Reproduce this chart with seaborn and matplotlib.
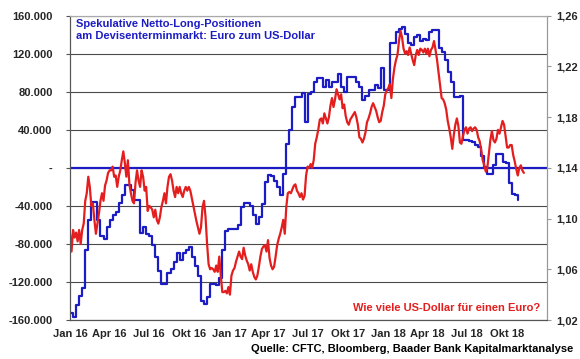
import numpy as np
import pandas as pd
import seaborn as sns
import matplotlib.pyplot as plt
from matplotlib.ticker import FuncFormatter


# --- Data ---
# Speculative net long positions EUR (CFTC), weekly, in thousand contracts
positions_start = '2016-01-01'
net_long = [
    -153, -157, -144, -135, -126, -86, -55, -36, -36, -55,
    -72, -75, -62, -55, -50, -46, -37, -29, -18, -18,
    -23, -34, -34, -69, -62, -70, -72, -81, -94, -108,
    -122, -122, -111, -106, -99, -90, -97, -90, -86, -83,
    -94, -103, -114, -140, -143, -136, -122, -122, -123, -116,
    -86, -66, -64, -64, -64, -60, -41, -37, -37, -40,
    -50, -59, -52, -38, -15, -8, -9, -14, -20, -29,
    -6, 25, 40, 64, 75, 75, 79, 48, 78, 80,
    90, 94, 94, 85, 92, 85, 90, 90, 99, 85,
    80, 96, 96, 96, 90, 85, 71, 76, 82, 82,
    87, 84, 105, 82, 82, 131, 131, 143, 146, 148,
    141, 131, 129, 138, 140, 133, 136, 134, 143, 145,
    145, 126, 122, 113, 101, 90, 75, 75, 76, 29,
    29, 28, 27, 24, 22, 12, 1, -6, -6, 3,
    15, 15, 6, 5, -16, -27, -29, -34,
]

# EUR/USD, sampled twice a week
eurusd_start = '2016-01-01'
eurusd = [
    1.088, 1.074, 1.091, 1.085, 1.089, 1.082, 1.091, 1.080, 1.091, 1.096,
    1.114, 1.120, 1.133, 1.125, 1.110, 1.112, 1.099, 1.088, 1.096, 1.104,
    1.114, 1.120, 1.114, 1.126, 1.130, 1.136, 1.138, 1.138, 1.141, 1.133,
    1.134, 1.125, 1.133, 1.138, 1.146, 1.153, 1.144, 1.133, 1.146, 1.127,
    1.120, 1.114, 1.112, 1.128, 1.138, 1.130, 1.125, 1.138, 1.133, 1.122,
    1.125, 1.106, 1.110, 1.109, 1.107, 1.101, 1.107, 1.099, 1.096, 1.101,
    1.109, 1.114, 1.120, 1.112, 1.125, 1.133, 1.135, 1.130, 1.122, 1.117,
    1.125, 1.120, 1.125, 1.120, 1.117, 1.122, 1.125, 1.122, 1.125, 1.122,
    1.116, 1.110, 1.104, 1.098, 1.093, 1.088, 1.093, 1.109, 1.114, 1.101,
    1.080, 1.064, 1.060, 1.061, 1.060, 1.058, 1.063, 1.058, 1.070, 1.055,
    1.042, 1.042, 1.043, 1.041, 1.046, 1.040, 1.055, 1.059, 1.061, 1.066,
    1.070, 1.074, 1.070, 1.068, 1.077, 1.071, 1.067, 1.064, 1.059, 1.064,
    1.058, 1.054, 1.052, 1.055, 1.062, 1.070, 1.076, 1.078, 1.079, 1.074,
    1.083, 1.069, 1.063, 1.060, 1.062, 1.070, 1.079, 1.084, 1.088, 1.093,
    1.099, 1.088, 1.109, 1.120, 1.121, 1.120, 1.123, 1.126, 1.127, 1.122,
    1.120, 1.117, 1.120, 1.115, 1.118, 1.134, 1.141, 1.140, 1.143, 1.140,
    1.146, 1.159, 1.164, 1.170, 1.178, 1.179, 1.175, 1.183, 1.179, 1.175,
    1.180, 1.189, 1.195, 1.188, 1.194, 1.202, 1.198, 1.194, 1.198, 1.187,
    1.190, 1.181, 1.176, 1.174, 1.178, 1.180, 1.182, 1.184, 1.180, 1.174,
    1.164, 1.163, 1.160, 1.163, 1.168, 1.176, 1.179, 1.183, 1.188, 1.191,
    1.188, 1.185, 1.180, 1.176, 1.177, 1.184, 1.189, 1.198, 1.201, 1.203,
    1.206, 1.195, 1.210, 1.219, 1.225, 1.229, 1.240, 1.248, 1.243, 1.234,
    1.230, 1.232, 1.229, 1.235, 1.230, 1.225, 1.221, 1.229, 1.233, 1.229,
    1.234, 1.233, 1.231, 1.234, 1.230, 1.234, 1.228, 1.233, 1.235, 1.240,
    1.233, 1.225, 1.215, 1.205, 1.195, 1.194, 1.191, 1.186, 1.177, 1.171,
    1.164, 1.155, 1.166, 1.174, 1.179, 1.173, 1.160, 1.159, 1.165, 1.170,
    1.172, 1.167, 1.171, 1.172, 1.169, 1.171, 1.172, 1.170, 1.164, 1.161,
    1.154, 1.146, 1.142, 1.137, 1.140, 1.151, 1.162, 1.169, 1.162, 1.160,
    1.163, 1.170, 1.167, 1.172, 1.177, 1.174, 1.165, 1.156, 1.156, 1.158,
    1.158, 1.150, 1.145, 1.139, 1.134, 1.140, 1.142, 1.138, 1.136,
]

tick_dates = ['2016-01-01', '2016-04-01', '2016-07-01', '2016-10-01',
              '2017-01-01', '2017-04-01', '2017-07-01', '2017-10-01',
              '2018-01-01', '2018-04-01', '2018-07-01', '2018-10-01']
tick_labels = ['Jan 16', 'Apr 16', 'Jul 16', 'Okt 16', 'Jan 17', 'Apr 17',
               'Jul 17', 'Okt 17', 'Jan 18', 'Apr 18', 'Jul 18', 'Okt 18']
left_ticks = [-160000, -120000, -80000, -40000, 0, 40000, 80000, 120000, 160000]
right_ticks = [1.02, 1.06, 1.10, 1.14, 1.18, 1.22, 1.26]

title_text = 'Spekulative Netto-Long-Positionen\nam Devisenterminmarkt: Euro zum US-Dollar'
fx_note = 'Wie viele US-Dollar für einen Euro?'
source_text = 'Quelle: CFTC, Bloomberg, Baader Bank Kapitalmarktanalyse'

BLUE = '#1c1cc4'
RED = '#e41e1e'

df_pos = pd.DataFrame({
    'Datum': pd.date_range(positions_start, periods=len(net_long), freq='7D'),
    'Positionen': np.array(net_long) * 1000,
})
df_fx = pd.DataFrame({
    'Datum': pd.date_range(eurusd_start, periods=len(eurusd), freq='84h'),
    'EURUSD': eurusd,
})

sns.set_style('white')
plt.rcParams['font.family'] = ['Liberation Sans', 'DejaVu Sans']
plt.rcParams['font.weight'] = 'bold'
plt.rcParams['font.size'] = 8

fig = plt.figure(figsize=(5.8, 3.59), dpi=100)
ax = fig.add_axes([0.1207, 0.1086, 0.8223, 0.8477])

# Net long positions (left axis)
ax.axhline(0, color=BLUE, lw=1.6, zorder=2)
sns.lineplot(data=df_pos, x='Datum', y='Positionen', ax=ax, color=BLUE,
             lw=1.6, drawstyle='steps-post', zorder=3)
ax.set_ylim(-160000, 160000)
ax.set_yticks(left_ticks)
ax.yaxis.set_major_formatter(FuncFormatter(
    lambda v, p: '-' if v == 0 else f'{int(v):,}'.replace(',', '.')))
ax.grid(axis='y', color='#4a4a4a', lw=0.8)
ax.set_xlim(pd.Timestamp('2016-01-01'), pd.Timestamp('2019-01-01'))
ax.set_xticks(pd.to_datetime(tick_dates))
ax.set_xticklabels(tick_labels)
ax.set_xlabel('')
ax.set_ylabel('')

# EUR/USD (right axis)
ax2 = ax.twinx()
sns.lineplot(data=df_fx, x='Datum', y='EURUSD', ax=ax2, color=RED, lw=1.6)
ax2.set_ylim(1.02, 1.26)
ax2.set_yticks(right_ticks)
ax2.yaxis.set_major_formatter(FuncFormatter(lambda v, p: f'{v:.2f}'.replace('.', ',')))
ax2.set_ylabel('')
ax2.set_xlim(pd.Timestamp('2016-01-01'), pd.Timestamp('2019-01-01'))

for a in (ax, ax2):
    a.spines['left'].set_color('#555555')
    a.spines['bottom'].set_color('#555555')
    a.spines['right'].set_color('#999999')
    a.spines['top'].set_color('#aaaaaa')
    for s in a.spines.values():
        s.set_linewidth(0.8)

ax.tick_params(axis='y', length=3, width=0.8, color='#555555', pad=9.5, labelsize=8)
ax.tick_params(axis='x', length=3, width=0.8, color='#555555', pad=3.5, labelsize=8)
ax2.tick_params(axis='y', length=3, width=0.8, color='#999999', pad=4, labelsize=8)

ax.text(0.013, 0.99, title_text, transform=ax.transAxes, ha='left', va='top',
        color=BLUE, fontsize=8, fontweight='bold', linespacing=1.25)
ax.text(0.985, 0.028, fx_note, transform=ax.transAxes, ha='right', va='baseline',
        color=RED, fontsize=8, fontweight='bold')
fig.text(0.988, 0.02, source_text, ha='right', va='baseline',
         color='black', fontsize=8, fontweight='bold')

fig.savefig('out.png', dpi=100)
